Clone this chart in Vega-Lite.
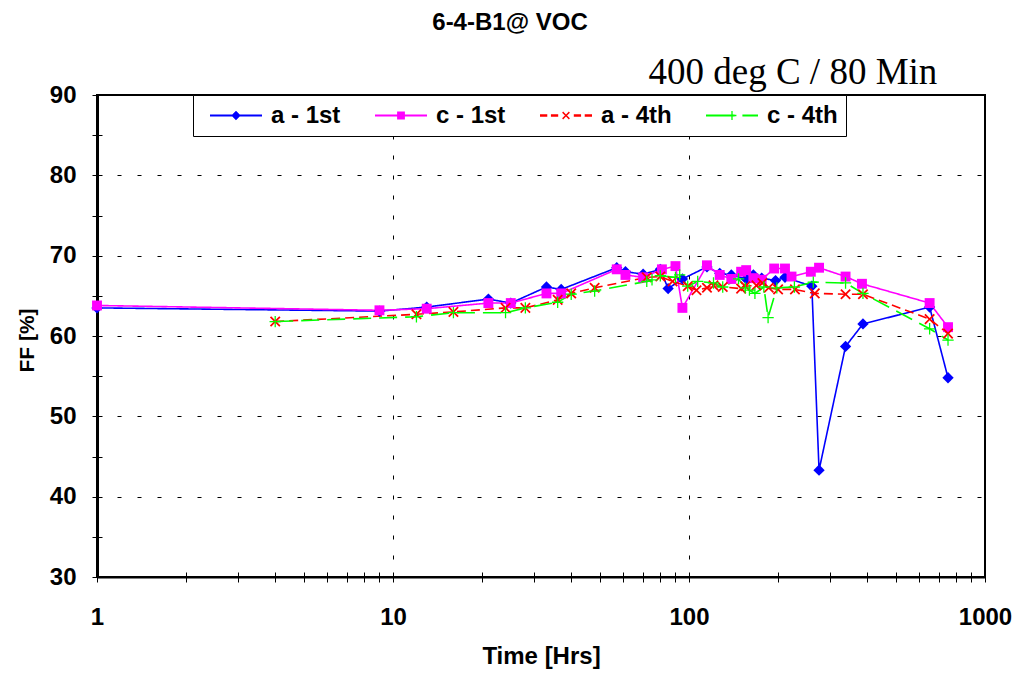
{
  "$schema": "https://vega.github.io/schema/vega-lite/v6.json",
  "autosize": "none",
  "width": 888,
  "height": 482,
  "padding": {"left": 97, "top": 95, "right": 32, "bottom": 96},
  "background": "white",
  "config": {"view": {"stroke": "black", "strokeWidth": 2}, "font": "Liberation Sans"},
  "title": {"text": "6-4-B1@ VOC", "font": "Liberation Sans", "fontSize": 24, "fontWeight": "bold", "color": "black", "anchor": "middle", "frame": "group", "dx": -31, "offset": 18},
  "data": {"values": [
    {"series": "a - 1st", "t": 1, "ff": 63.5},
    {"series": "a - 1st", "t": 9, "ff": 63.1},
    {"series": "a - 1st", "t": 13, "ff": 63.6},
    {"series": "a - 1st", "t": 21, "ff": 64.6},
    {"series": "a - 1st", "t": 25, "ff": 64.1},
    {"series": "a - 1st", "t": 33, "ff": 66.1},
    {"series": "a - 1st", "t": 37, "ff": 65.8},
    {"series": "a - 1st", "t": 57, "ff": 68.5},
    {"series": "a - 1st", "t": 61, "ff": 68.0},
    {"series": "a - 1st", "t": 70, "ff": 67.7},
    {"series": "a - 1st", "t": 80, "ff": 68.3},
    {"series": "a - 1st", "t": 85, "ff": 65.9},
    {"series": "a - 1st", "t": 95, "ff": 67.1},
    {"series": "a - 1st", "t": 115, "ff": 68.6},
    {"series": "a - 1st", "t": 127, "ff": 67.8},
    {"series": "a - 1st", "t": 139, "ff": 67.6},
    {"series": "a - 1st", "t": 156, "ff": 67.1},
    {"series": "a - 1st", "t": 165, "ff": 67.6},
    {"series": "a - 1st", "t": 176, "ff": 67.2},
    {"series": "a - 1st", "t": 196, "ff": 66.9},
    {"series": "a - 1st", "t": 211, "ff": 67.3},
    {"series": "a - 1st", "t": 260, "ff": 66.2},
    {"series": "a - 1st", "t": 275, "ff": 43.3},
    {"series": "a - 1st", "t": 338, "ff": 58.7},
    {"series": "a - 1st", "t": 387, "ff": 61.5},
    {"series": "a - 1st", "t": 650, "ff": 63.6},
    {"series": "a - 1st", "t": 750, "ff": 54.8},
    {"series": "c - 1st", "t": 1, "ff": 63.8},
    {"series": "c - 1st", "t": 9, "ff": 63.2},
    {"series": "c - 1st", "t": 13, "ff": 63.4},
    {"series": "c - 1st", "t": 21, "ff": 64.1},
    {"series": "c - 1st", "t": 25, "ff": 64.1},
    {"series": "c - 1st", "t": 33, "ff": 65.3},
    {"series": "c - 1st", "t": 37, "ff": 65.3},
    {"series": "c - 1st", "t": 57, "ff": 68.3},
    {"series": "c - 1st", "t": 61, "ff": 67.6},
    {"series": "c - 1st", "t": 70, "ff": 67.3},
    {"series": "c - 1st", "t": 81, "ff": 68.3},
    {"series": "c - 1st", "t": 90, "ff": 68.7},
    {"series": "c - 1st", "t": 95, "ff": 63.5},
    {"series": "c - 1st", "t": 115, "ff": 68.8},
    {"series": "c - 1st", "t": 127, "ff": 67.6},
    {"series": "c - 1st", "t": 139, "ff": 67.1},
    {"series": "c - 1st", "t": 150, "ff": 68.0},
    {"series": "c - 1st", "t": 156, "ff": 68.2},
    {"series": "c - 1st", "t": 165, "ff": 67.2},
    {"series": "c - 1st", "t": 176, "ff": 67.0},
    {"series": "c - 1st", "t": 194, "ff": 68.4},
    {"series": "c - 1st", "t": 211, "ff": 68.4},
    {"series": "c - 1st", "t": 222, "ff": 67.4},
    {"series": "c - 1st", "t": 258, "ff": 68.0},
    {"series": "c - 1st", "t": 275, "ff": 68.5},
    {"series": "c - 1st", "t": 338, "ff": 67.4},
    {"series": "c - 1st", "t": 384, "ff": 66.5},
    {"series": "c - 1st", "t": 650, "ff": 64.1},
    {"series": "c - 1st", "t": 750, "ff": 61.1},
    {"series": "a - 4th", "t": 4, "ff": 61.8},
    {"series": "a - 4th", "t": 12, "ff": 62.7},
    {"series": "a - 4th", "t": 16, "ff": 63.0},
    {"series": "a - 4th", "t": 24, "ff": 63.5},
    {"series": "a - 4th", "t": 28, "ff": 63.5},
    {"series": "a - 4th", "t": 36, "ff": 64.5},
    {"series": "a - 4th", "t": 40, "ff": 65.3},
    {"series": "a - 4th", "t": 48, "ff": 66.0},
    {"series": "a - 4th", "t": 72, "ff": 67.3},
    {"series": "a - 4th", "t": 80, "ff": 67.4},
    {"series": "a - 4th", "t": 88, "ff": 66.8},
    {"series": "a - 4th", "t": 99, "ff": 66.2},
    {"series": "a - 4th", "t": 106, "ff": 65.7},
    {"series": "a - 4th", "t": 115, "ff": 66.0},
    {"series": "a - 4th", "t": 121, "ff": 66.3},
    {"series": "a - 4th", "t": 130, "ff": 66.1},
    {"series": "a - 4th", "t": 150, "ff": 65.9},
    {"series": "a - 4th", "t": 155, "ff": 66.2},
    {"series": "a - 4th", "t": 169, "ff": 66.3},
    {"series": "a - 4th", "t": 177, "ff": 66.6},
    {"series": "a - 4th", "t": 186, "ff": 66.0},
    {"series": "a - 4th", "t": 200, "ff": 65.8},
    {"series": "a - 4th", "t": 228, "ff": 65.8},
    {"series": "a - 4th", "t": 266, "ff": 65.3},
    {"series": "a - 4th", "t": 338, "ff": 65.2},
    {"series": "a - 4th", "t": 387, "ff": 65.2},
    {"series": "a - 4th", "t": 650, "ff": 62.1},
    {"series": "a - 4th", "t": 750, "ff": 60.3},
    {"series": "c - 4th", "t": 4, "ff": 61.8},
    {"series": "c - 4th", "t": 12, "ff": 62.4},
    {"series": "c - 4th", "t": 16, "ff": 62.9},
    {"series": "c - 4th", "t": 24, "ff": 62.9},
    {"series": "c - 4th", "t": 28, "ff": 63.5},
    {"series": "c - 4th", "t": 36, "ff": 64.2},
    {"series": "c - 4th", "t": 40, "ff": 65.2},
    {"series": "c - 4th", "t": 48, "ff": 65.6},
    {"series": "c - 4th", "t": 72, "ff": 66.8},
    {"series": "c - 4th", "t": 75, "ff": 67.0},
    {"series": "c - 4th", "t": 80, "ff": 67.5},
    {"series": "c - 4th", "t": 90, "ff": 67.3},
    {"series": "c - 4th", "t": 93, "ff": 67.6},
    {"series": "c - 4th", "t": 99, "ff": 66.2},
    {"series": "c - 4th", "t": 107, "ff": 66.8},
    {"series": "c - 4th", "t": 121, "ff": 66.6},
    {"series": "c - 4th", "t": 130, "ff": 66.1},
    {"series": "c - 4th", "t": 147, "ff": 67.1},
    {"series": "c - 4th", "t": 155, "ff": 66.0},
    {"series": "c - 4th", "t": 160, "ff": 65.7},
    {"series": "c - 4th", "t": 167, "ff": 65.3},
    {"series": "c - 4th", "t": 179, "ff": 66.1},
    {"series": "c - 4th", "t": 185, "ff": 62.3},
    {"series": "c - 4th", "t": 198, "ff": 66.0},
    {"series": "c - 4th", "t": 227, "ff": 66.1},
    {"series": "c - 4th", "t": 263, "ff": 66.7},
    {"series": "c - 4th", "t": 338, "ff": 66.6},
    {"series": "c - 4th", "t": 387, "ff": 65.3},
    {"series": "c - 4th", "t": 650, "ff": 60.9},
    {"series": "c - 4th", "t": 750, "ff": 59.5}
  ]},
  "layer": [
    {
      "mark": {"type": "line", "strokeWidth": 1.6},
      "encoding": {
        "x": {"field": "t", "type": "quantitative", "scale": {"type": "log", "domain": [1, 1000]},
          "axis": {"orient": "bottom", "title": "Time [Hrs]", "values": [1, 10, 100, 1000], "format": "d",
            "grid": true, "gridColor": "black", "gridDash": [4, 16], "gridWidth": 1,
            "ticks": false, "tickSize": 0, "domain": true, "domainColor": "black", "domainWidth": 2,
            "labelFont": "Liberation Sans", "labelFontSize": 24, "labelFontWeight": "bold", "labelColor": "black",
            "labelPadding": 28, "labelFlush": false, "labelOverlap": false, "labelBaseline": "top",
            "titleFont": "Liberation Sans", "titleFontSize": 24, "titleFontWeight": "bold", "titleColor": "black",
            "titleBaseline": "alphabetic", "titleAlign": "center", "titleX": 444, "titleY": 86}},
        "y": {"field": "ff", "type": "quantitative", "scale": {"domain": [30, 90]},
          "axis": {"orient": "left", "title": "FF [%]", "values": [30, 40, 50, 60, 70, 80, 90],
            "grid": true, "gridColor": "black", "gridDash": [4, 16], "gridWidth": 1,
            "ticks": false, "tickSize": 0, "domain": true, "domainColor": "black", "domainWidth": 3,
            "labelFont": "Liberation Sans", "labelFontSize": 24, "labelFontWeight": "bold", "labelColor": "black",
            "labelPadding": 21, "labelOverlap": false, "labelFlush": false,
            "titleFont": "Liberation Sans", "titleFontSize": 21, "titleFontWeight": "bold", "titleColor": "black",
            "titleAngle": -90, "titleBaseline": "alphabetic", "titleAlign": "center", "titleX": -64, "titleY": 245}},
        "color": {"field": "series", "type": "nominal",
          "scale": {"domain": ["a - 1st", "c - 1st", "a - 4th", "c - 4th"], "range": ["#0000FF", "#FF00FF", "#FF0000", "#00FF00"]},
          "legend": null},
        "strokeDash": {"field": "series", "type": "nominal",
          "scale": {"domain": ["a - 1st", "c - 1st", "a - 4th", "c - 4th"], "range": [[1, 0], [1, 0], [9, 5], [18, 8]]},
          "legend": null}
      }
    },
    {
      "mark": {"type": "point", "filled": true, "opacity": 1, "size": 5000, "strokeWidth": 0},
      "encoding": {
        "x": {"field": "t", "type": "quantitative",
          "axis": {"orient": "bottom", "values": [1, 2, 3, 4, 5, 6, 7, 8, 9, 10, 20, 30, 40, 50, 60, 70, 80, 90, 100, 200, 300, 400, 500, 600, 700, 800, 900, 1000],
            "offset": -5, "tickSize": 10, "tickColor": "black", "tickWidth": 1, "domain": false, "labels": false, "grid": false,
            "title": "400 deg C / 80 Min", "titleFont": "Liberation Serif", "titleFontSize": 37, "titleFontWeight": "normal", "titleColor": "black",
            "titleAlign": "left", "titleBaseline": "alphabetic", "titleX": 551, "titleY": -489}},
        "y": {"field": "ff", "type": "quantitative",
          "axis": {"orient": "left", "values": [30, 35, 40, 45, 50, 55, 60, 65, 70, 75, 80, 85, 90],
            "offset": -5, "tickSize": 10, "tickColor": "black", "tickWidth": 1, "domain": false, "labels": false, "grid": false, "title": null}},
        "color": {"field": "series", "type": "nominal",
          "scale": {"domain": ["a - 1st", "c - 1st", "a - 4th", "c - 4th"], "range": ["#0000FF", "#FF00FF", "#FF0000", "#00FF00"]},
          "legend": null},
        "shape": {"field": "series", "type": "nominal",
          "scale": {"domain": ["a - 1st", "c - 1st", "a - 4th", "c - 4th"], "range": [
            "M0,-0.16L0.16,0L0,0.16L-0.16,0Z",
            "M-0.14,-0.14L0.14,-0.14L0.14,0.14L-0.14,0.14Z",
            "M0,-0.035L0.115,-0.15L0.15,-0.115L0.035,0L0.15,0.115L0.115,0.15L0,0.035L-0.115,0.15L-0.15,0.115L-0.035,0L-0.15,-0.115L-0.115,-0.15Z",
            "M-0.018,-0.16L0.018,-0.16L0.018,-0.018L0.16,-0.018L0.16,0.018L0.018,0.018L0.018,0.16L-0.018,0.16L-0.018,0.018L-0.16,0.018L-0.16,-0.018L-0.018,-0.018Z"
          ]},
          "legend": null}
      }
    },
    {
      "transform": [{"filter": "false"}],
      "mark": {"type": "point", "filled": true, "opacity": 1, "strokeWidth": 0},
      "encoding": {
        "x": {"field": "t", "type": "quantitative", "axis": null},
        "y": {"field": "ff", "type": "quantitative", "axis": null},
        "color": {"field": "series", "type": "nominal",
          "scale": {"domain": ["a - 1st", "c - 1st", "a - 4th", "c - 4th"], "range": ["#0000FF", "#FF00FF", "#FF0000", "#00FF00"]},
          "legend": {"title": null, "orient": "none", "legendX": 96, "legendY": 0, "direction": "horizontal",
            "symbolSize": 2704, "symbolStrokeWidth": 0, "symbolOpacity": 1, "clipHeight": 25, "padding": 8,
            "symbolOffset": 9, "labelOffset": 9, "columnPadding": 25,
            "labelFont": "Liberation Sans", "labelFontSize": 24, "labelFontWeight": "bold", "labelColor": "black",
            "fillColor": "white", "strokeColor": "black"}},
        "shape": {"field": "series", "type": "nominal",
          "scale": {"domain": ["a - 1st", "c - 1st", "a - 4th", "c - 4th"], "range": [
            "M-1,-0.035L1,-0.035L1,0.035L-1,0.035ZM0,-0.18L0.18,0L0,0.18L-0.18,0Z",
            "M-1,-0.035L1,-0.035L1,0.035L-1,0.035ZM-0.15,-0.15L0.15,-0.15L0.15,0.15L-0.15,0.15Z",
            "M-1,-0.045L-0.72,-0.045L-0.72,0.045L-1,0.045ZM-0.58,-0.045L-0.3,-0.045L-0.3,0.045L-0.58,0.045ZM0.3,-0.045L0.58,-0.045L0.58,0.045L0.3,0.045ZM0.72,-0.045L1,-0.045L1,0.045L0.72,0.045ZM0,-0.04L0.11,-0.15L0.15,-0.11L0.04,0L0.15,0.11L0.11,0.15L0,0.04L-0.11,0.15L-0.15,0.11L-0.04,0L-0.15,-0.11L-0.11,-0.15Z",
            "M-1,-0.035L0.1,-0.035L0.1,0.035L-1,0.035ZM0.4,-0.035L1,-0.035L1,0.035L0.4,0.035ZM-0.025,-0.17L0.025,-0.17L0.025,-0.025L0.17,-0.025L0.17,0.025L0.025,0.025L0.025,0.17L-0.025,0.17L-0.025,0.025L-0.17,0.025L-0.17,-0.025L-0.025,-0.025Z"
          ]}}
      }
    }
  ],
  "resolve": {
    "scale": {"color": "independent", "shape": "independent", "strokeDash": "independent"},
    "axis": {"x": "independent", "y": "independent"}
  }
}
